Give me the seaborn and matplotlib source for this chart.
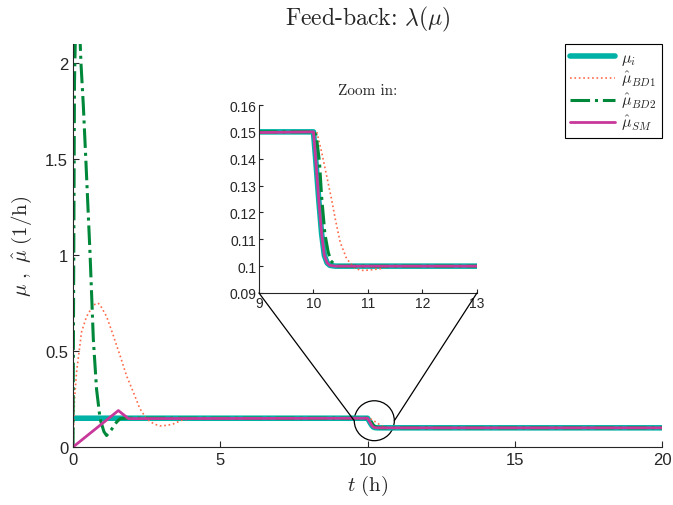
import matplotlib
matplotlib.use('Agg')
import matplotlib.pyplot as plt
import seaborn as sns
from matplotlib.patches import Ellipse, ConnectionPatch

# data
t_mu = [0, 10.0, 10.04, 10.1, 10.15, 10.2, 10.25, 10.3, 10.4, 20]
mu_i = [0.15, 0.15, 0.14, 0.124, 0.112, 0.104, 0.1012, 0.1003, 0.1, 0.1]

t_bd1 = [0, 0.05, 0.12, 0.29, 0.46, 0.69, 0.85, 0.92, 1.14, 1.37, 1.6, 1.82, 2.05, 2.27,
         2.5, 2.75, 2.95, 3.2, 3.4, 3.7, 4.1, 10.0, 10.06, 10.15, 10.24, 10.33, 10.4,
         10.49, 10.61, 10.75, 10.86, 11.0, 11.22, 11.35, 20]
mu_bd1 = [0, 0.25, 0.39, 0.6, 0.68, 0.74, 0.75, 0.74, 0.68, 0.58, 0.475, 0.37, 0.285, 0.2,
          0.146, 0.12, 0.11, 0.113, 0.12, 0.14, 0.15, 0.15, 0.15, 0.1425, 0.1338, 0.1251,
          0.1176, 0.1089, 0.1027, 0.0995, 0.0984, 0.0985, 0.099, 0.1, 0.1]

t_bd2 = [0, 0.02, 0.05, 0.1, 0.16, 0.22, 0.27, 0.35, 0.44, 0.58, 0.69, 0.8, 0.92, 1.05,
         1.14, 1.3, 1.48, 1.6, 1.8, 10.0, 10.05, 10.11, 10.15, 10.21, 10.27, 10.32, 10.37,
         10.45, 20]
mu_bd2 = [0, 0.8, 1.9, 2.3, 2.35, 2.2, 2.0, 1.78, 1.48, 1.0, 0.56, 0.3, 0.146, 0.08,
          0.06, 0.09, 0.13, 0.148, 0.15, 0.15, 0.1487, 0.1388, 0.1257, 0.112, 0.1052,
          0.102, 0.1009, 0.1, 0.1]

t_sm = [0, 1.54, 1.88, 10.0, 10.04, 10.1, 10.15, 10.2, 10.25, 10.3, 10.4, 20]
mu_sm = [0, 0.19, 0.148, 0.15, 0.14, 0.124, 0.112, 0.104, 0.1012, 0.1003, 0.1, 0.1]

series_labels = [r'$\mu_i$', r'$\hat{\mu}_{BD1}$', r'$\hat{\mu}_{BD2}$', r'$\hat{\mu}_{SM}$']

x_ticks = [0, 5, 10, 15, 20]
y_ticks = [0, 0.5, 1, 1.5, 2]
y_tick_labels = ['0', '0.5', '1', '1.5', '2']
inset_x_ticks = [9, 10, 11, 12, 13]
inset_y_ticks = [0.09, 0.1, 0.11, 0.12, 0.13, 0.14, 0.15, 0.16]
inset_y_tick_labels = ['0.09', '0.1', '0.11', '0.12', '0.13', '0.14', '0.15', '0.16']

zoom_center = (10.23, 0.137)
zoom_w, zoom_h = 1.36, 0.208

sns.set_style('ticks')
plt.rcParams['font.family'] = ['Liberation Sans', 'DejaVu Sans']
plt.rcParams['mathtext.fontset'] = 'cm'
plt.rcParams['xtick.direction'] = 'in'
plt.rcParams['ytick.direction'] = 'in'

c_mu, c_bd1, c_bd2, c_sm = '#00b2a6', '#ff6a4a', '#00883a', '#c8389a'

fig = plt.figure(figsize=(6.73, 5.06), dpi=100)
ax = fig.add_axes([0.1085, 0.1146, 0.8752, 0.7964])
ins = fig.add_axes([0.3848, 0.419, 0.3239, 0.3715])


def draw(a):
    sns.lineplot(x=t_mu, y=mu_i, ax=a, color=c_mu, linewidth=4.0,
                 label=series_labels[0], estimator=None, sort=False)
    sns.lineplot(x=t_bd1, y=mu_bd1, ax=a, color=c_bd1, linewidth=1.2,
                 linestyle=':', label=series_labels[1], estimator=None, sort=False)
    sns.lineplot(x=t_bd2, y=mu_bd2, ax=a, color=c_bd2, linewidth=2.2,
                 linestyle='-.', label=series_labels[2], estimator=None, sort=False)
    sns.lineplot(x=t_sm, y=mu_sm, ax=a, color=c_sm, linewidth=2.0,
                 label=series_labels[3], estimator=None, sort=False)


draw(ax)
draw(ins)
ins.get_legend().remove()

ax.set_xlim(0, 20)
ax.set_ylim(0, 2.1)
ax.set_xticks(x_ticks)
ax.set_xticklabels([str(v) for v in x_ticks])
ax.set_yticks(y_ticks)
ax.set_yticklabels(y_tick_labels)
ax.tick_params(labelsize=12, length=4, width=0.8)
sns.despine(ax=ax)
ax.set_xlabel(r'$t\ \mathrm{(h)}$', fontsize=15)
ax.set_ylabel(r'$\mu\ ,\ \hat{\mu}\ \mathrm{(1/h)}$', fontsize=15, labelpad=8)
ax.set_title(r'Feed-back: $\lambda(\mu)$', fontsize=17, fontfamily='cmr10', pad=14)

leg = ax.legend(loc='upper right', fontsize=11.5, frameon=True, fancybox=False,
                edgecolor='black', framealpha=1, borderaxespad=0, handlelength=2.8,
                handletextpad=0.4, labelspacing=0.15, borderpad=0.35)
leg.get_frame().set_linewidth(0.8)

ins.set_xlim(9, 13)
ins.set_ylim(0.09, 0.16)
ins.set_xticks(inset_x_ticks)
ins.set_xticklabels([str(v) for v in inset_x_ticks])
ins.set_yticks(inset_y_ticks)
ins.set_yticklabels(inset_y_tick_labels)
ins.tick_params(labelsize=10, length=3, width=0.8, pad=2)
sns.despine(ax=ins)
ins.set_facecolor('white')
ins.set_title('Zoom in:', fontsize=11, fontfamily='cmr10', pad=8)

ax.add_patch(Ellipse(zoom_center, zoom_w, zoom_h, fill=False, edgecolor='black', lw=0.9))
for xa, xb in [(9, zoom_center[0] - zoom_w / 2), (13, zoom_center[0] + zoom_w / 2)]:
    con = ConnectionPatch(xyA=(xa, 0.09), coordsA=ins.transData,
                          xyB=(xb, zoom_center[1]), coordsB=ax.transData,
                          color='black', lw=0.9)
    fig.add_artist(con)

fig.savefig('out.png', dpi=100)
